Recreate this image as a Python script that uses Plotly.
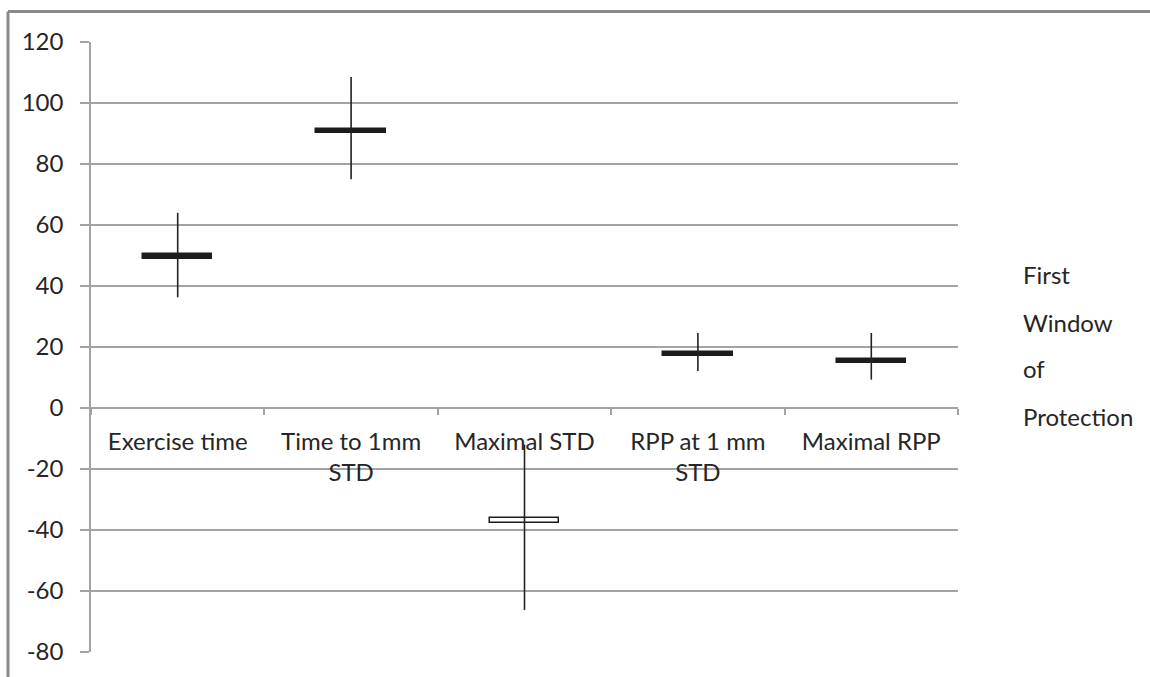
import plotly.graph_objects as go

# Stock-style chart: high-low lines with open/close bars per measure
categories = ["Exercise time", "Time to 1mm<br>STD", "Maximal STD", "RPP at 1 mm<br>STD", "Maximal RPP"]
high_vals = [64.0, 108.5, -12.0, 24.6, 24.6]
low_vals = [36.3, 75.0, -66.2, 12.1, 9.3]
open_vals = [50.4, 91.6, -37.8, 18.4, 16.2]
close_vals = [48.8, 90.1, -36.2, 17.0, 14.8]
y_ticks = [-80, -60, -40, -20, 0, 20, 40, 60, 80, 100, 120]
legend_lines = ["First", "Window", "of", "Protection"]

FONT = "Lato, 'Open Sans', sans-serif"
FS = 24
TEXT = "#262626"
GRID = "#a3a3a3"

W, H = 1150, 677
L, R, T, B = 91, 192, 42, 23
pw, ph = W - L - R, H - T - B


def px_to_paper(px, py):
    return (px - L) / pw, (H - B - py) / ph


fig = go.Figure()

# up/down bars (white when close > open, black otherwise)
bar_base = [min(o, c) for o, c in zip(open_vals, close_vals)]
bar_len = [abs(c - o) for o, c in zip(open_vals, close_vals)]
bar_fill = ["#ffffff" if c > o else "#1c1c1c" for o, c in zip(open_vals, close_vals)]
fig.add_trace(go.Bar(
    x=categories, y=bar_len, base=bar_base, width=0.4,
    marker=dict(color=bar_fill, line=dict(color="#1c1c1c", width=1.5)),
    showlegend=False, hoverinfo="skip",
))

# high-low lines
xs, ys = [], []
for c, hi, lo in zip(categories, high_vals, low_vals):
    xs += [c, c, None]
    ys += [hi, lo, None]
fig.add_trace(go.Scatter(
    x=xs, y=ys, mode="lines", line=dict(color="#222222", width=1.6),
    showlegend=False, hoverinfo="skip",
))

# legend text on the right
legend_px = [275, 323, 370, 418]
for txt, py in zip(legend_lines, legend_px):
    xp, yp = px_to_paper(1021, py)
    fig.add_annotation(
        x=xp, y=yp, xref="paper", yref="paper", text=txt, showarrow=False,
        xanchor="left", yanchor="middle", font=dict(family=FONT, size=FS, color=TEXT),
    )

# outer chart frame (top and left edges)
x0, y0 = px_to_paper(8, 11.5)
x1, _ = px_to_paper(1152, 11.5)
_, y1 = px_to_paper(8, 680)
fig.add_shape(type="line", xref="paper", yref="paper", x0=x0, y0=y0, x1=x1, y1=y0,
              line=dict(color="#8a8a8a", width=3))
fig.add_shape(type="line", xref="paper", yref="paper", x0=x0, y0=y0, x1=x0, y1=y1,
              line=dict(color="#8a8a8a", width=3))

y_min, y_max = -80, 120
fig.update_layout(
    width=W, height=H,
    margin=dict(l=L, r=R, t=T, b=B, pad=0),
    paper_bgcolor="white", plot_bgcolor="white",
    font=dict(family=FONT, size=FS, color=TEXT),
    bargap=0,
    xaxis=dict(
        type="category", anchor="free", position=(0 - y_min) / (y_max - y_min),
        showline=True, linecolor=GRID, linewidth=1.5,
        ticks="outside", tickson="boundaries", ticklen=6, tickcolor=GRID, tickwidth=1.5,
        showgrid=False, ticklabelstandoff=12,
        tickfont=dict(family=FONT, size=FS, color=TEXT),
        range=[-0.5, len(categories) - 0.5],
    ),
    yaxis=dict(
        range=[y_min, y_max], tickvals=y_ticks, ticktext=[str(v) for v in y_ticks],
        showgrid=True, gridcolor=GRID, gridwidth=1.5,
        showline=True, linecolor=GRID, linewidth=1.5,
        ticks="outside", ticklen=9, tickcolor=GRID, tickwidth=1.5,
        zeroline=False, ticklabelstandoff=12,
        tickfont=dict(family=FONT, size=FS, color=TEXT),
    ),
)

fig.write_html("out.html")
